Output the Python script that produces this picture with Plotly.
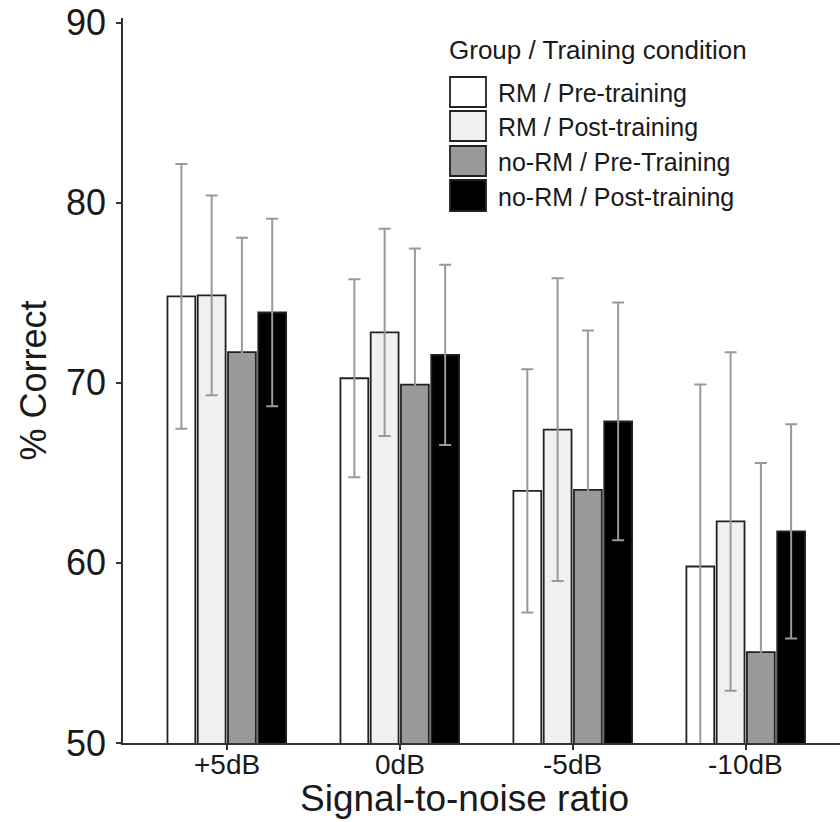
import plotly.graph_objects as go

categories = ["+5dB", "0dB", "-5dB", "-10dB"]
series_names = ["RM / Pre-training", "RM / Post-training",
                "no-RM / Pre-Training", "no-RM / Post-training"]
rm_pre_mean = [74.8, 70.25, 64.0, 59.8]
rm_pre_sd = [7.35, 5.5, 6.75, 10.1]
rm_post_mean = [74.85, 72.8, 67.4, 62.3]
rm_post_sd = [5.55, 5.75, 8.4, 9.4]
norm_pre_mean = [71.7, 69.9, 64.05, 55.05]
norm_pre_sd = [6.35, 7.55, 8.85, 10.5]
norm_post_mean = [73.9, 71.55, 67.85, 61.75]
norm_post_sd = [5.2, 5.0, 6.6, 5.95]
y_ticks = [50, 60, 70, 80, 90]
x_title = "Signal-to-noise ratio"
y_title = "% Correct"
legend_title = "Group / Training condition"

fills = ["#ffffff", "#f0f0f0", "#999999", "#000000"]
means = [rm_pre_mean, rm_post_mean, norm_pre_mean, norm_post_mean]
sds = [rm_pre_sd, rm_post_sd, norm_pre_sd, norm_post_sd]
xpos = list(range(len(categories)))

FONT = "Liberation Sans, Arial, sans-serif"
TXT = "#1a1a1a"
fig = go.Figure()
for name, m, s, c in zip(series_names, means, sds, fills):
    fig.add_trace(go.Bar(
        x=xpos, y=m, name=name,
        marker=dict(color=c, line=dict(color="#222222", width=1.8)),
        error_y=dict(type="data", array=s, visible=True, color="#999999",
                     thickness=2, width=6),
        showlegend=False,
    ))

# plot area in pixels: x 123..840, y 18..743
L, R, T, B = 123, 840, 18, 743
def px(x):
    return (x - L) / (R - L)
def py(y):
    return (B - y) / (B - T)

shapes = []
annotations = []
box_rows = [(77, 107), (111, 141), (146, 176), (180, 211)]
for (y0, y1), name, c in zip(box_rows, series_names, fills):
    shapes.append(dict(type="rect", xref="paper", yref="paper",
                       x0=px(450), x1=px(486), y0=py(y1), y1=py(y0),
                       fillcolor=c, line=dict(color="#222222", width=1.8)))
    annotations.append(dict(xref="paper", yref="paper", x=px(496), y=py((y0 + y1) / 2 + 1),
                            xanchor="left", yanchor="middle", showarrow=False,
                            text=name, font=dict(family=FONT, size=25, color=TXT)))
annotations.append(dict(xref="paper", yref="paper", x=px(447), y=py(50),
                        xanchor="left", yanchor="middle", showarrow=False,
                        text=legend_title, font=dict(family=FONT, size=26, color=TXT)))

# category labels under the axis, placed at the x-axis category positions
for xv, lab in zip(xpos, categories):
    annotations.append(dict(xref="x", yref="paper", x=xv, y=0, yshift=-4,
                            xanchor="center", yanchor="top", showarrow=False,
                            text=lab, font=dict(family=FONT, size=28, color=TXT)))
# x-axis title
annotations.append(dict(xref="paper", yref="paper", x=px(464), y=py(821),
                        xanchor="center", yanchor="bottom", showarrow=False,
                        text=x_title, font=dict(family=FONT, size=37, color=TXT)))

fig.update_layout(
    width=840, height=822,
    margin=dict(l=L, r=840 - R, t=T, b=822 - B, pad=0),
    paper_bgcolor="white", plot_bgcolor="white",
    barmode="group", bargap=0.3, bargroupgap=0.08,
    font=dict(family=FONT, color=TXT),
    shapes=shapes, annotations=annotations,
    xaxis=dict(
        range=[-0.6, 3.545], tickmode="array", tickvals=xpos,
        showticklabels=False,
        ticks="outside", ticklen=5, tickwidth=1.5, tickcolor="#333333",
        showline=True, linecolor="#333333", linewidth=1.5,
        showgrid=False, zeroline=False,
    ),
    yaxis=dict(
        range=[50, 90.25], tickmode="array", tickvals=y_ticks,
        tickfont=dict(size=36, color=TXT, family=FONT),
        ticks="outside", ticklen=5, tickwidth=1.5, tickcolor="#333333",
        ticklabelstandoff=3,
        showline=True, linecolor="#333333", linewidth=1.5,
        showgrid=False, zeroline=False,
        title=dict(text=y_title, standoff=8,
                   font=dict(size=36, color=TXT, family=FONT)),
    ),
)

fig.write_html("out.html")
